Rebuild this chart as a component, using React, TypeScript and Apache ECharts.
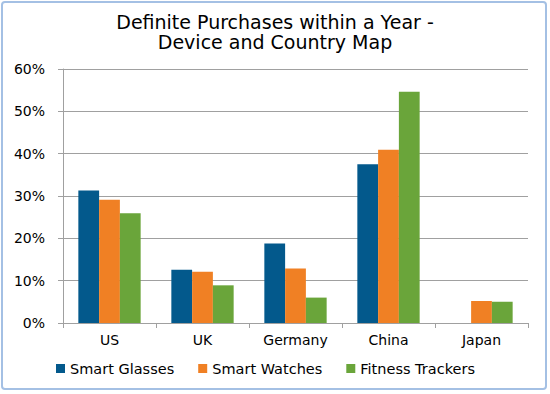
import React, { useEffect, useRef } from "react";
import * as echarts from "echarts";

const categories = ["US", "UK", "Germany", "China", "Japan"];
const smartGlasses: (number | null)[] = [0.313, 0.126, 0.188, 0.375, null];
const smartWatches = [0.291, 0.121, 0.129, 0.409, 0.052];
const fitnessTrackers = [0.259, 0.089, 0.06, 0.546, 0.05];
const seriesNames = ["Smart Glasses", "Smart Watches", "Fitness Trackers"];
const seriesColors = ["#03598C", "#F08024", "#6AA53A"];
const titleText = "Definite Purchases within a Year -\nDevice and Country Map";

const FONT = "DejaVu Sans";

export default function App() {
  const ref = useRef<HTMLDivElement>(null);
  useEffect(() => {
    if (!ref.current) return;
    const chart = echarts.init(ref.current, null, { renderer: "svg" });
    const data = [smartGlasses, smartWatches, fitnessTrackers];
    chart.setOption({
      animation: false,
      backgroundColor: "#ffffff",
      title: {
        text: titleText,
        left: "center",
        top: 7,
        textStyle: {
          fontFamily: FONT,
          fontSize: 19,
          fontWeight: "normal",
          color: "#000",
          lineHeight: 20,
        },
      },
      graphic: [
        {
          type: "rect",
          shape: { x: 2, y: 2, width: 544, height: 387, r: 3 },
          style: { fill: "none", stroke: "#A4C0E4", lineWidth: 2 },
          silent: true,
        },
      ],
      legend: {
        left: 51,
        top: 356,
        itemWidth: 9,
        itemHeight: 9,
        itemGap: 24,
        icon: "rect",
        textStyle: { fontFamily: FONT, fontSize: 14.5, color: "#000" },
        data: seriesNames,
      },
      grid: { left: 63, right: 22, top: 69, bottom: 71 },
      xAxis: {
        type: "category",
        data: categories,
        axisLine: { lineStyle: { color: "#A0A0A0", width: 1 } },
        axisTick: { show: true, length: 5, lineStyle: { color: "#A0A0A0" } },
        axisLabel: { fontFamily: FONT, fontSize: 14, color: "#000", margin: 10 },
      },
      yAxis: {
        type: "value",
        min: 0,
        max: 0.6,
        interval: 0.1,
        axisLine: { show: true, lineStyle: { color: "#A0A0A0", width: 1 } },
        axisTick: { show: true, length: 5, lineStyle: { color: "#A0A0A0" } },
        splitLine: { lineStyle: { color: "#A0A0A0", width: 1 } },
        axisLabel: {
          fontFamily: FONT,
          fontSize: 14,
          color: "#000",
          margin: 18,
          formatter: (v: number) => `${Math.round(v * 100)}%`,
        },
      },
      series: seriesNames.map((name, i) => ({
        name,
        type: "bar",
        data: data[i],
        barGap: "0%",
        barCategoryGap: "33%",
        itemStyle: { color: seriesColors[i] },
      })),
    });
    return () => chart.dispose();
  }, []);
  return (
    <div
      ref={ref}
      style={{ position: "fixed", left: 0, top: 0, width: 550, height: 394 }}
    />
  );
}
